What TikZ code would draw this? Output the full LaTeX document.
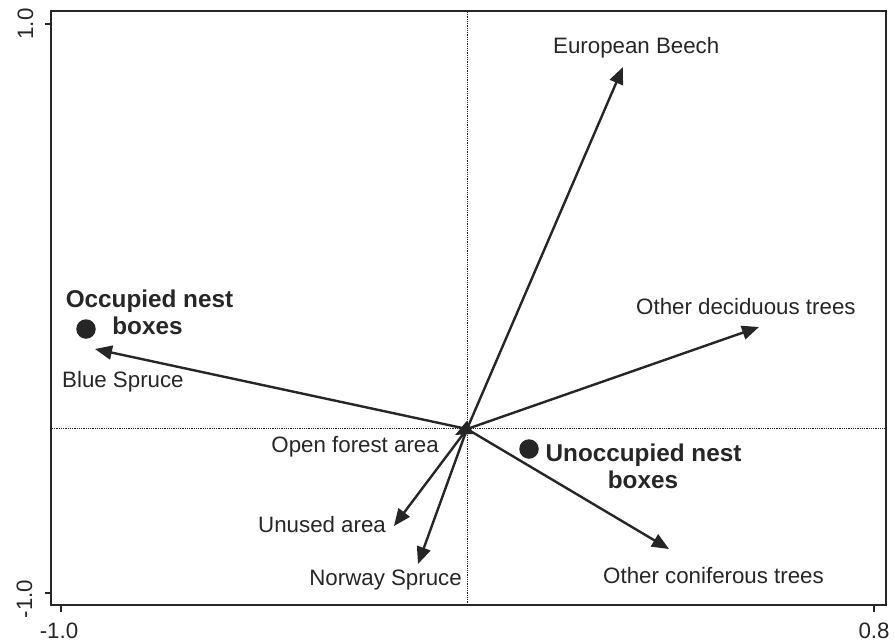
\documentclass[tikz,border=0pt]{standalone}
\usepackage{fontspec}
\setmainfont{Liberation Sans}
\usetikzlibrary{arrows.meta}
\definecolor{ink}{gray}{0.15}
\begin{document}
\begin{tikzpicture}[x=1pt,y=-1pt,
  lbl/.style={inner sep=0pt, text=ink, font=\fontsize{22.3}{26}\selectfont},
  blbl/.style={inner sep=0pt, text=ink, font=\fontsize{24.3}{27}\selectfont\bfseries},
  vec/.style={draw=ink, line width=2.4pt, -{Triangle[length=17pt,width=14pt]}},
  guide/.style={draw=ink, line width=0.9pt, dash pattern=on 0.9pt off 0.9pt},
  frameline/.style={draw=ink, line width=2pt},
  dot/.style={circle, fill=ink, inner sep=0pt, minimum size=19.5pt}
]
\useasboundingbox (0,0) rectangle (895,643);
% frame and ticks
\coordinate (fl) at (51,11);
\coordinate (fr) at (886,605);
\draw[guide] (467.5,12) -- (467.5,604);
\draw[guide] (52,428.5) -- (885,428.5);
\draw[frameline] (fl) rectangle (fr);
\draw[frameline] (45,24) -- (51,24);
\draw[frameline] (45,593) -- (51,593);
\draw[frameline] (61,605) -- (61,612);
\draw[frameline] (874,605) -- (874,612);
% tick labels
\node[lbl, rotate=90, anchor=base] (yt1) at (33,24) {1.0};
\node[lbl, rotate=90, anchor=base] (yt2) at (32,599) {-1.0};
\node[lbl, anchor=base] (xt1) at (59,638) {-1.0};
\node[lbl, anchor=base] (xt2) at (874,638) {0.8};
% vectors
\coordinate (o) at (467,429);
\coordinate (eb) at (623,67);
\coordinate (odt) at (759,327);
\coordinate (bs) at (95,349);
\coordinate (oct) at (669,549);
\coordinate (ua) at (394,526);
\coordinate (ns) at (418,564);
\coordinate (ofa) at (455,435);
\draw[vec] (o) -- (eb);
\draw[vec] (o) -- (odt);
\draw[vec] (o) -- (bs);
\draw[vec] (o) -- (oct);
\draw[vec] (o) -- (ua);
\draw[vec] (o) -- (ns);
\draw[vec] (o) -- (ofa);
% dots
\node[dot] (occ) at (86,329) {};
\node[dot] (unocc) at (529,449) {};
% labels
\node[lbl, anchor=base west] (lEB) at (553,53) {European Beech};
\node[lbl, anchor=base west] (lODT) at (636,314) {Other deciduous trees};
\node[lbl, anchor=base west] (lBS) at (62,387) {Blue Spruce};
\node[lbl, anchor=base east] (lOFA) at (439,452) {Open forest area};
\node[lbl, anchor=base west] (lUA) at (258,532) {Unused area};
\node[lbl, anchor=base east] (lNS) at (462,585) {Norway Spruce};
\node[lbl, anchor=base west] (lOCT) at (603,583) {Other coniferous trees};
\node[blbl, anchor=base] (lOcc1) at (149.5,307) {Occupied nest};
\node[blbl, anchor=base] (lOcc2) at (147.5,334) {boxes};
\node[blbl, anchor=base] (lUn1) at (643.5,461) {Unoccupied nest};
\node[blbl, anchor=base] (lUn2) at (643,488) {boxes};
\end{tikzpicture}
\end{document}
